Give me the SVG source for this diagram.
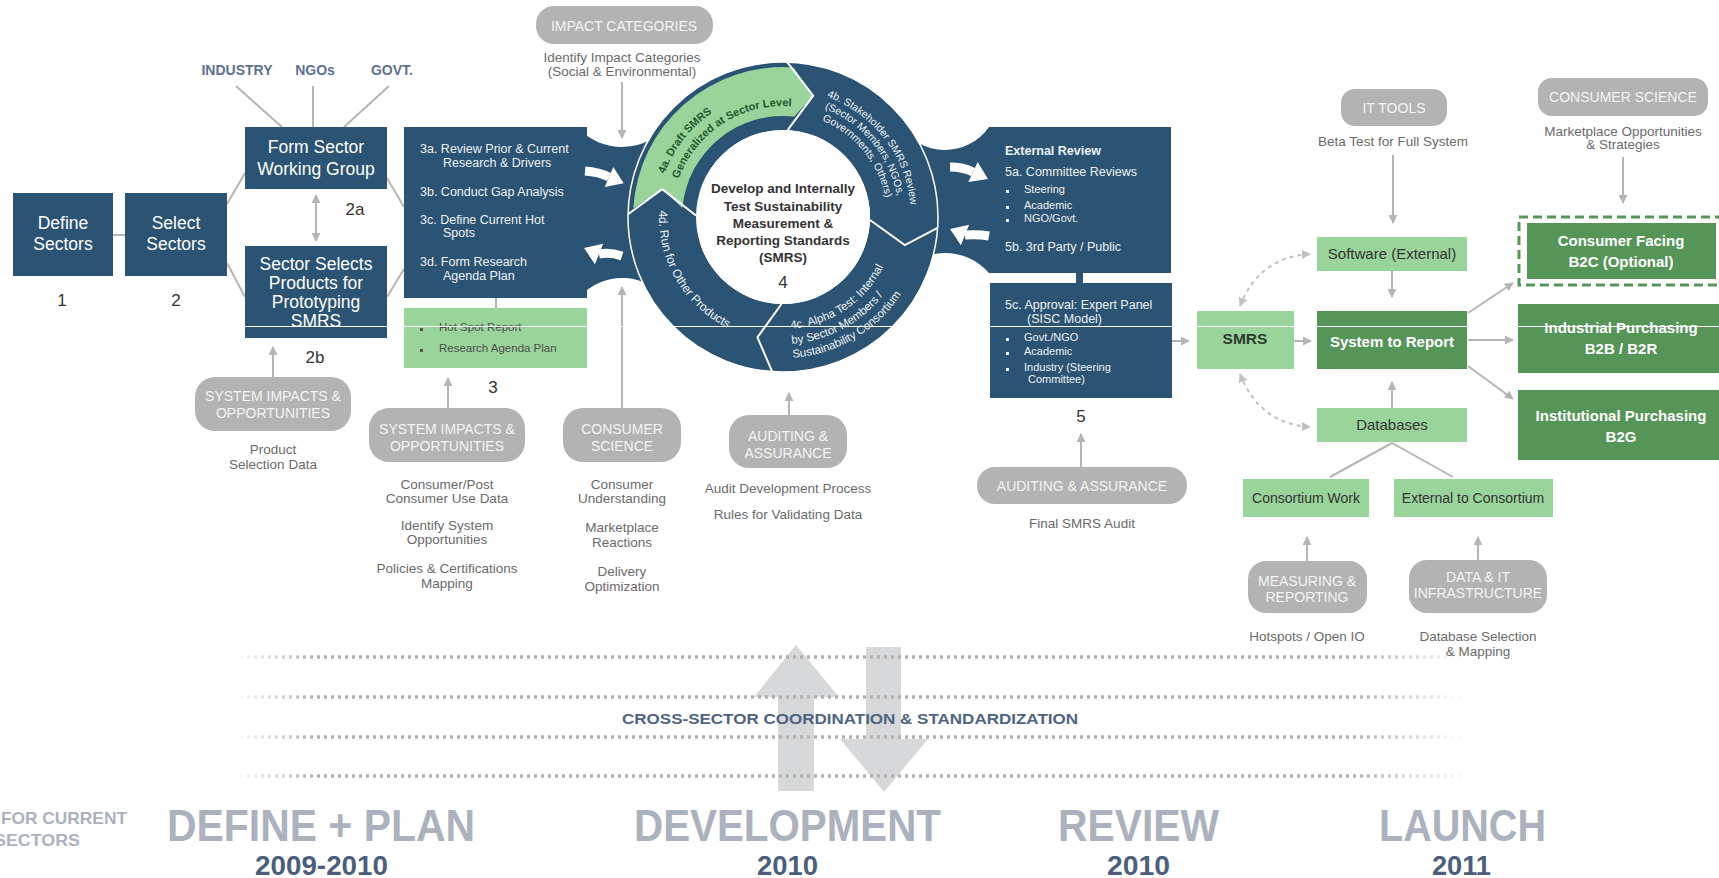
<svg xmlns="http://www.w3.org/2000/svg" width="1719" height="878" viewBox="0 0 1719 878">
<defs>
<style>
text{font-family:"Liberation Sans",Arial,sans-serif}
.db{fill:#2b5373}
.lg{fill:#99d49b}
.dg{fill:#559558}
.pill{fill:#b3b3b3}
.pt{font-size:14px;fill:#f4f4f4;text-anchor:middle}
.desc{font-size:13.5px;fill:#6a6a6a;text-anchor:middle}
.bt{font-size:17.5px;fill:#ffffff;text-anchor:middle}
.num{font-size:17px;fill:#333333;text-anchor:middle}
.w12{font-size:12.5px;fill:#eef2f5}
.w11{font-size:11px;fill:#eef2f5}
.gb{font-size:11.5px;fill:#4d4d4d}
.ln{stroke:#b5b5b5;stroke-width:2;fill:none}
.ar{marker-end:url(#ah)}
.lab{font-size:14px;font-weight:bold;fill:#5d7190;text-anchor:middle}
.rt{font-size:15px;text-anchor:middle}
.big{font-size:44px;font-weight:bold;fill:#abb2be}
.yr{font-size:28px;font-weight:bold;fill:#4b5f7c}
.dot{stroke:url(#fade);stroke-width:3.5;stroke-dasharray:3 4;fill:none}
</style>
<marker id="ah" viewBox="0 0 10 10" refX="9" refY="5" markerWidth="9" markerHeight="9" markerUnits="userSpaceOnUse" orient="auto-start-reverse">
<path d="M0,0 L10,5 L0,10 z" fill="#b5b5b5"/>
</marker>
<marker id="ahd" viewBox="0 0 10 10" refX="9" refY="5" markerWidth="9" markerHeight="9" markerUnits="userSpaceOnUse" orient="auto-start-reverse">
<path d="M0,0 L10,5 L0,10 z" fill="#c0c0c0"/>
</marker>
<linearGradient id="fade" gradientUnits="userSpaceOnUse" x1="233" y1="0" x2="1470" y2="0">
<stop offset="0" stop-color="#b0b0b0" stop-opacity="0"/>
<stop offset="0.07" stop-color="#b0b0b0" stop-opacity="1"/>
<stop offset="0.9" stop-color="#b0b0b0" stop-opacity="1"/>
<stop offset="1" stop-color="#b0b0b0" stop-opacity="0"/>
</linearGradient>
<path id="t4a1" d="M664.6,173.9 A126,126 0 0 1 846.0,107.9"/>
<path id="t4a2" d="M678.7,179.0 A111,111 0 0 1 838.5,120.9"/>
<path id="t4b1" d="M826.8,96.7 A128,128 0 0 1 909.1,239.2"/>
<path id="t4b2" d="M824.6,108.7 A116,116 0 0 1 897.2,237.1"/>
<path id="t4b3" d="M822.0,120.6 A104,104 0 0 1 885.4,235.1"/>
<path id="t4c1" d="M790.8,328.7 A112,112 0 0 0 893.3,236.5"/>
<path id="t4c2" d="M791.9,343.7 A127,127 0 0 0 908.1,239.1"/>
<path id="t4c3" d="M792.8,357.7 A141,141 0 0 0 921.9,241.5"/>
<path id="t4d" d="M659.2,210.5 A124,124 0 0 0 761.5,339.1"/>
</defs>
<rect width="1719" height="878" fill="#ffffff"/>

<g id="cross-sector">
<polygon points="778,791 814,791 814,697 839,697 796,645 754,697 778,697" fill="#d6d8d9"/>
<polygon points="866,647 901,647 901,739 928,739 884,792 840,739 866,739" fill="#d6d8d9"/>
<line class="dot" x1="233" y1="657" x2="1470" y2="657"/>
<line class="dot" x1="233" y1="697" x2="1470" y2="697"/>
<line class="dot" x1="233" y1="737" x2="1470" y2="737"/>
<line class="dot" x1="233" y1="776" x2="1470" y2="776"/>
<text x="850" y="724" font-size="15" font-weight="bold" fill="#4f6382" text-anchor="middle" textLength="456" lengthAdjust="spacingAndGlyphs">CROSS-SECTOR COORDINATION &amp; STANDARDIZATION</text>
</g>

<g id="connectors">
<line class="ln" x1="236" y1="86" x2="282" y2="127"/>
<line class="ln" x1="313" y1="86" x2="313" y2="127"/>
<line class="ln" x1="389" y1="86" x2="344" y2="127"/>
<line class="ln" x1="113" y1="235" x2="125" y2="235"/>
<line class="ln" x1="227" y1="204" x2="245" y2="173"/>
<line class="ln" x1="227" y1="263" x2="245" y2="297"/>
<line class="ln" x1="387" y1="178" x2="404" y2="207"/>
<line class="ln" x1="387" y1="297" x2="404" y2="269"/>
<line class="ln" x1="316" y1="195" x2="316" y2="241" marker-start="url(#ah)" marker-end="url(#ah)"/>
<line class="ln ar" x1="273" y1="377" x2="273" y2="347"/>
<line class="ln" x1="496" y1="298" x2="496" y2="308"/>
<line class="ln ar" x1="448" y1="408" x2="448" y2="378"/>
<line class="ln ar" x1="622" y1="82" x2="622" y2="138"/>
<line class="ln ar" x1="622" y1="408" x2="622" y2="287"/>
<line class="ln ar" x1="789" y1="415" x2="789" y2="393"/>
<line class="ln ar" x1="1081" y1="467" x2="1081" y2="434"/>
<line class="ln ar" x1="1172" y1="341" x2="1189" y2="341"/>
<line class="ln ar" x1="1294" y1="341" x2="1311" y2="341"/>
<line class="ln ar" x1="1393" y1="155" x2="1393" y2="223"/>
<line class="ln ar" x1="1392" y1="271" x2="1392" y2="297"/>
<line class="ln ar" x1="1392" y1="408" x2="1392" y2="382"/>
<line class="ln" x1="1392" y1="443" x2="1330" y2="477"/>
<line class="ln" x1="1392" y1="443" x2="1453" y2="477"/>
<line class="ln ar" x1="1307" y1="561" x2="1307" y2="537"/>
<line class="ln ar" x1="1478" y1="560" x2="1478" y2="537"/>
<line class="ln ar" x1="1623" y1="157" x2="1623" y2="203"/>
<line class="ln ar" x1="1468" y1="313" x2="1513" y2="283"/>
<line class="ln ar" x1="1468" y1="340" x2="1513" y2="340"/>
<line class="ln ar" x1="1468" y1="366" x2="1513" y2="399"/>
<path d="M1240,306 C1252,275 1275,256 1310,254" fill="none" stroke="#c0c0c0" stroke-width="2" stroke-dasharray="4 4" marker-start="url(#ahd)" marker-end="url(#ahd)"/>
<path d="M1240,374 C1252,405 1275,425 1310,427" fill="none" stroke="#c0c0c0" stroke-width="2" stroke-dasharray="4 4" marker-start="url(#ahd)" marker-end="url(#ahd)"/>
<rect x="1076" y="272" width="7" height="12" class="db"/>
</g>

<g id="stakeholders">
<text class="lab" x="237" y="75" font-size="13.5">INDUSTRY</text>
<text class="lab" x="315" y="75">NGOs</text>
<text class="lab" x="392" y="75">GOVT.</text>
</g>

<g id="n1">
<rect x="13" y="193" width="100" height="83" class="db"/>
<text class="bt" x="63" y="229">Define</text>
<text class="bt" x="63" y="250">Sectors</text>
<text class="num" x="62" y="306">1</text>
</g>
<g id="n2">
<rect x="125" y="193" width="102" height="83" class="db"/>
<text class="bt" x="176" y="229">Select</text>
<text class="bt" x="176" y="250">Sectors</text>
<text class="num" x="176" y="306">2</text>
</g>
<g id="n2a">
<rect x="245" y="127" width="142" height="62" class="db"/>
<text class="bt" x="316" y="153">Form Sector</text>
<text class="bt" x="316" y="175">Working Group</text>
<text class="num" x="355" y="215">2a</text>
</g>
<g id="n2b">
<rect x="245" y="246" width="142" height="92" class="db"/>
<text class="bt" x="316" y="270">Sector Selects</text>
<text class="bt" x="316" y="289">Products for</text>
<text class="bt" x="316" y="308">Prototyping</text>
<text class="bt" x="316" y="327">SMRS</text>
<text class="num" x="315" y="363">2b</text>
</g>
<g id="pill-sys1">
<rect x="195" y="377" width="156" height="54" rx="20" class="pill"/>
<text class="pt" x="273" y="401">SYSTEM IMPACTS &amp;</text>
<text class="pt" x="273" y="418">OPPORTUNITIES</text>
<text class="desc" x="273" y="454">Product</text>
<text class="desc" x="273" y="469">Selection Data</text>
</g>

<g id="n3">
<rect x="404" y="127" width="183" height="171" class="db"/>
<path class="db" d="M570,127 L577,127 A61,61 0 0 0 670,123.6 L700,123.6 L700,304.3 L670,304.3 A57,57 0 0 0 578.6,298 L570,298 Z"/>
<text class="w12" x="420" y="153">3a. Review Prior &amp; Current</text>
<text class="w12" x="443" y="167">Research &amp; Drivers</text>
<text class="w12" x="420" y="196">3b. Conduct Gap Analysis</text>
<text class="w12" x="420" y="224">3c. Define Current Hot</text>
<text class="w12" x="443" y="237">Spots</text>
<text class="w12" x="420" y="266">3d. Form Research</text>
<text class="w12" x="443" y="280">Agenda Plan</text>
<path d="M585,171 Q599,172 609,177" fill="none" stroke="#ffffff" stroke-width="9"/>
<polygon points="613.3,166.9 623.7,183.2 604.7,187.1" fill="#ffffff"/>
<path d="M622,256 Q610,252 599,254" fill="none" stroke="#ffffff" stroke-width="9"/>
<polygon points="603.1,243.8 584,248 594.9,264.2" fill="#ffffff"/>
</g>
<g id="n3-out">
<rect x="404" y="308" width="183" height="60" class="lg"/>
<rect x="420" y="328" width="3" height="3" fill="#555"/>
<text class="gb" x="439" y="331">Hot Spot Report</text>
<rect x="420" y="349" width="3" height="3" fill="#555"/>
<text class="gb" x="439" y="352">Research Agenda Plan</text>
<text class="num" x="493" y="393">3</text>
</g>

<g id="pill-impact">
<rect x="536" y="6" width="177" height="38" rx="18" class="pill"/>
<text class="pt" x="624" y="31">IMPACT CATEGORIES</text>
<text class="desc" x="622" y="62">Identify Impact Categories</text>
<text class="desc" x="622" y="76">(Social &amp; Environmental)</text>
</g>
<g id="pill-sys2">
<rect x="369" y="408" width="156" height="54" rx="20" class="pill"/>
<text class="pt" x="447" y="434">SYSTEM IMPACTS &amp;</text>
<text class="pt" x="447" y="451">OPPORTUNITIES</text>
<text class="desc" x="447" y="489">Consumer/Post</text>
<text class="desc" x="447" y="503">Consumer Use Data</text>
<text class="desc" x="447" y="530">Identify System</text>
<text class="desc" x="447" y="544">Opportunities</text>
<text class="desc" x="447" y="573">Policies &amp; Certifications</text>
<text class="desc" x="447" y="588">Mapping</text>
</g>
<g id="pill-cs1">
<rect x="563" y="408" width="118" height="54" rx="20" class="pill"/>
<text class="pt" x="622" y="434">CONSUMER</text>
<text class="pt" x="622" y="451">SCIENCE</text>
<text class="desc" x="622" y="489">Consumer</text>
<text class="desc" x="622" y="503">Understanding</text>
<text class="desc" x="622" y="532">Marketplace</text>
<text class="desc" x="622" y="547">Reactions</text>
<text class="desc" x="622" y="576">Delivery</text>
<text class="desc" x="622" y="591">Optimization</text>
</g>
<g id="pill-aud1">
<rect x="729" y="415" width="118" height="53" rx="20" class="pill"/>
<text class="pt" x="788" y="441">AUDITING &amp;</text>
<text class="pt" x="788" y="458">ASSURANCE</text>
<text class="desc" x="788" y="493">Audit Development Process</text>
<text class="desc" x="788" y="519">Rules for Validating Data</text>
</g>

<g id="n5">
<path class="db" d="M900,125.5 A53.6,53.6 0 0 0 989,127 L995,127 L995,273 L989,273 A58.4,58.4 0 0 0 900,274.2 Z"/>
<rect x="989" y="127" width="182" height="146" class="db"/>
<text x="1005" y="155" font-size="12.5" font-weight="bold" fill="#eef2f5">External Review</text>
<text class="w12" x="1005" y="176">5a. Committee Reviews</text>
<rect x="1006" y="190" width="3" height="3" fill="#eef2f5"/>
<text class="w11" x="1024" y="193">Steering</text>
<rect x="1006" y="206" width="3" height="3" fill="#eef2f5"/>
<text class="w11" x="1024" y="209">Academic</text>
<rect x="1006" y="219" width="3" height="3" fill="#eef2f5"/>
<text class="w11" x="1024" y="222">NGO/Govt.</text>
<text class="w12" x="1005" y="251">5b. 3rd Party / Public</text>
<path d="M950,167 Q963,167 973,172" fill="none" stroke="#ffffff" stroke-width="9"/>
<polygon points="977.7,162.1 988,179 968.3,181.9" fill="#ffffff"/>
<path d="M989,236 Q978,234 965,235" fill="none" stroke="#ffffff" stroke-width="9"/>
<polygon points="969.1,224.8 950,229 960.9,245.2" fill="#ffffff"/>
</g>
<g id="n5c">
<rect x="990" y="283" width="182" height="115" class="db"/>
<text class="w12" x="1005" y="309">5c. Approval: Expert Panel</text>
<text class="w12" x="1027" y="323">(SISC Model)</text>
<rect x="1006" y="338" width="3" height="3" fill="#eef2f5"/>
<text class="w11" x="1024" y="341">Govt./NGO</text>
<rect x="1006" y="352" width="3" height="3" fill="#eef2f5"/>
<text class="w11" x="1024" y="355">Academic</text>
<rect x="1006" y="368" width="3" height="3" fill="#eef2f5"/>
<text class="w11" x="1024" y="371">Industry (Steering</text>
<text class="w11" x="1028" y="383">Committee)</text>
<text class="num" x="1081" y="422">5</text>
</g>
<g id="pill-aud2">
<rect x="977" y="467" width="210" height="37" rx="18" class="pill"/>
<text class="pt" x="1082" y="491">AUDITING &amp; ASSURANCE</text>
<text class="desc" x="1082" y="528">Final SMRS Audit</text>
</g>

<g id="n4">
<circle cx="783" cy="217" r="121" fill="none" stroke="#2b5373" stroke-width="68"/>
<circle cx="783" cy="217" r="155" fill="none" stroke="#ffffff" stroke-width="1.5"/>
<path class="lg" d="M633.3,208.4 A150,150 0 0 1 793.5,67.4 L813.2,95.7 L794.3,116.6 A101,101 0 0 0 682.4,207.9 L662.2,189.1 Z"/>
<circle cx="783" cy="217" r="87" fill="#ffffff"/>
<g fill="none" stroke="#ffffff" stroke-width="2">
<polyline points="787.1,62.1 813.2,95.7 787.6,130.1"/>
<polyline points="937.6,227.8 904.8,245.1 870.0,220.0"/>
<polyline points="772.2,371.6 757.4,337.3 781.5,304.0"/>
<polyline points="628.0,214.3 662.2,189.1 696.0,215.5"/>
</g>
<text font-size="11" font-weight="bold" fill="#1f5a2c"><textPath href="#t4a1">4a. Draft SMRS</textPath></text>
<text font-size="11" font-weight="bold" fill="#1f5a2c"><textPath href="#t4a2">Generalized at Sector Level</textPath></text>
<text font-size="10.5" fill="#eef2f5"><textPath href="#t4b1">4b. Stakeholder SMRS Review</textPath></text>
<text font-size="10.5" fill="#eef2f5"><textPath href="#t4b2">(Sector Members, NGOs,</textPath></text>
<text font-size="10.5" fill="#eef2f5"><textPath href="#t4b3">Governments, Others)</textPath></text>
<text font-size="11.5" fill="#eef2f5"><textPath href="#t4c1">4c. Alpha Test: Internal</textPath></text>
<text font-size="11.5" fill="#eef2f5"><textPath href="#t4c2">by Sector Members /</textPath></text>
<text font-size="11.5" fill="#eef2f5"><textPath href="#t4c3">Sustainability Consortium</textPath></text>
<text font-size="12" fill="#eef2f5"><textPath href="#t4d">4d. Run for Other Products</textPath></text>
<g font-size="13.5" font-weight="bold" fill="#333333" text-anchor="middle">
<text x="783" y="193">Develop and Internally</text>
<text x="783" y="211">Test Sustainability</text>
<text x="783" y="228">Measurement &amp;</text>
<text x="783" y="245">Reporting Standards</text>
<text x="783" y="262">(SMRS)</text>
</g>
<text class="num" x="783" y="288">4</text>
</g>

<g id="n-smrs">
<rect x="1197" y="311" width="97" height="58" class="lg"/>
<text x="1245" y="344" font-size="15.5" font-weight="bold" fill="#2b3b2e" text-anchor="middle">SMRS</text>
</g>
<g id="n-software">
<rect x="1317" y="237" width="150" height="34" class="lg"/>
<text class="rt" x="1392" y="259" fill="#333333">Software (External)</text>
</g>
<g id="n-system">
<rect x="1317" y="311" width="150" height="58" class="dg"/>
<text class="rt" x="1392" y="347" fill="#ffffff" font-weight="bold">System to Report</text>
</g>
<g id="n-databases">
<rect x="1317" y="408" width="150" height="34" class="lg"/>
<text class="rt" x="1392" y="430" fill="#333333">Databases</text>
</g>
<g id="n-consortium">
<rect x="1243" y="479" width="126" height="38" class="lg"/>
<text x="1306" y="503" font-size="14" fill="#333333" text-anchor="middle">Consortium Work</text>
</g>
<g id="n-external">
<rect x="1394" y="479" width="159" height="38" class="lg"/>
<text x="1473" y="503" font-size="14" fill="#333333" text-anchor="middle">External to Consortium</text>
</g>
<g id="pill-it">
<rect x="1341" y="89" width="106" height="37" rx="14" class="pill"/>
<text class="pt" x="1394" y="113">IT TOOLS</text>
<text class="desc" x="1393" y="146">Beta Test for Full System</text>
</g>
<g id="pill-cs2">
<rect x="1538" y="78" width="170" height="38" rx="14" class="pill"/>
<text class="pt" x="1623" y="102">CONSUMER SCIENCE</text>
<text class="desc" x="1623" y="136">Marketplace Opportunities</text>
<text class="desc" x="1623" y="149">&amp; Strategies</text>
</g>
<g id="pill-mr">
<rect x="1248" y="561" width="119" height="52" rx="18" class="pill"/>
<text class="pt" x="1307" y="586">MEASURING &amp;</text>
<text class="pt" x="1307" y="602">REPORTING</text>
<text class="desc" x="1307" y="641">Hotspots / Open IO</text>
</g>
<g id="pill-data">
<rect x="1409" y="560" width="138" height="53" rx="18" class="pill"/>
<text class="pt" x="1478" y="582">DATA &amp; IT</text>
<text class="pt" x="1478" y="598">INFRASTRUCTURE</text>
<text class="desc" x="1478" y="641">Database Selection</text>
<text class="desc" x="1478" y="656">&amp; Mapping</text>
</g>
<g id="n-b2c">
<rect x="1519" y="217" width="212" height="68" fill="none" stroke="#559558" stroke-width="3" stroke-dasharray="9 5"/>
<rect x="1527" y="223" width="189" height="56" class="dg"/>
<text class="rt" x="1621" y="246" fill="#ffffff" font-weight="bold">Consumer Facing</text>
<text class="rt" x="1621" y="267" fill="#ffffff" font-weight="bold">B2C (Optional)</text>
</g>
<g id="n-b2b">
<rect x="1518" y="304" width="210" height="69" class="dg"/>
<text class="rt" x="1621" y="333" fill="#ffffff" font-weight="bold">Industrial Purchasing</text>
<text class="rt" x="1621" y="354" fill="#ffffff" font-weight="bold">B2B / B2R</text>
</g>
<g id="n-b2g">
<rect x="1518" y="390" width="210" height="70" class="dg"/>
<text class="rt" x="1621" y="421" fill="#ffffff" font-weight="bold">Institutional Purchasing</text>
<text class="rt" x="1621" y="442" fill="#ffffff" font-weight="bold">B2G</text>
</g>

<g id="phases">
<text x="1" y="824" font-size="17" font-weight="bold" fill="#abb2be" textLength="126" lengthAdjust="spacingAndGlyphs">FOR CURRENT</text>
<text x="-6" y="846" font-size="17" font-weight="bold" fill="#abb2be" textLength="86" lengthAdjust="spacingAndGlyphs">SECTORS</text>
<text class="big" x="167" y="841" textLength="308" lengthAdjust="spacingAndGlyphs">DEFINE + PLAN</text>
<text class="yr" x="255" y="875" textLength="133" lengthAdjust="spacingAndGlyphs">2009-2010</text>
<text class="big" x="634" y="841" textLength="307" lengthAdjust="spacingAndGlyphs">DEVELOPMENT</text>
<text class="yr" x="757" y="875" textLength="61" lengthAdjust="spacingAndGlyphs">2010</text>
<text class="big" x="1058" y="841" textLength="161" lengthAdjust="spacingAndGlyphs">REVIEW</text>
<text class="yr" x="1107" y="875" textLength="63" lengthAdjust="spacingAndGlyphs">2010</text>
<text class="big" x="1379" y="841" textLength="167" lengthAdjust="spacingAndGlyphs">LAUNCH</text>
<text class="yr" x="1432" y="875" textLength="59" lengthAdjust="spacingAndGlyphs">2011</text>
</g>

<line x1="0" y1="326.5" x2="1719" y2="326.5" stroke="#ffffff" stroke-width="1.2"/>
</svg>
